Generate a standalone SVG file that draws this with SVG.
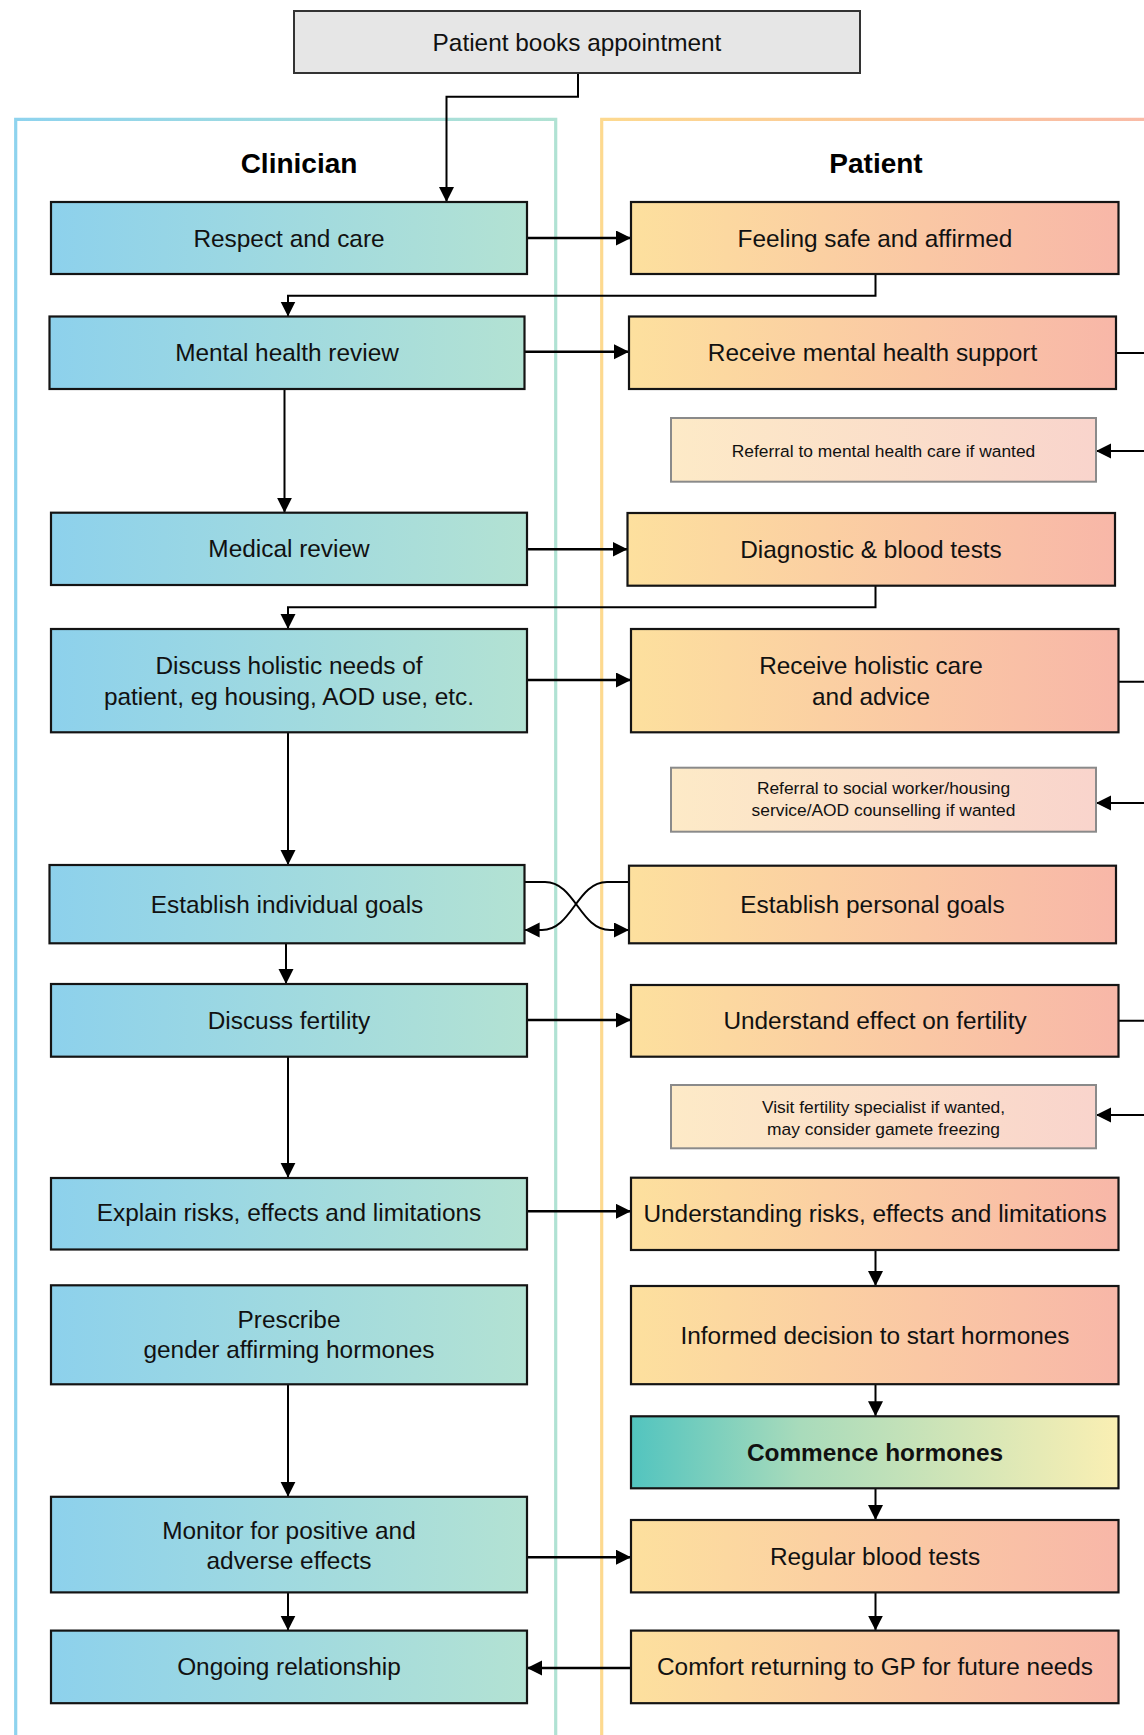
<svg xmlns="http://www.w3.org/2000/svg" width="1144" height="1735" viewBox="0 0 1144 1735">
<defs>
<linearGradient id="clinGrad" x1="0" y1="0" x2="1" y2="0"><stop offset="0" stop-color="#8dd1ec"/><stop offset="1" stop-color="#b3e2d3"/></linearGradient>
<linearGradient id="patGrad" x1="0" y1="0" x2="1" y2="0"><stop offset="0" stop-color="#fde09e"/><stop offset="1" stop-color="#f8b7a8"/></linearGradient>
<linearGradient id="refGrad" x1="0" y1="0" x2="1" y2="0"><stop offset="0" stop-color="#fdeac7"/><stop offset="1" stop-color="#f9d4cc"/></linearGradient>
<linearGradient id="comGrad" x1="0" y1="0" x2="1" y2="0"><stop offset="0" stop-color="#52c4bf"/><stop offset="0.35" stop-color="#a9dbbb"/><stop offset="1" stop-color="#faefb3"/></linearGradient>
<linearGradient id="clinLane" gradientUnits="userSpaceOnUse" x1="15" y1="0" x2="556" y2="0"><stop offset="0" stop-color="#8ed3ee"/><stop offset="1" stop-color="#b0e2d3"/></linearGradient>
<linearGradient id="patLane" gradientUnits="userSpaceOnUse" x1="602" y1="0" x2="1180" y2="0"><stop offset="0" stop-color="#fdd98f"/><stop offset="1" stop-color="#f9b9a8"/></linearGradient>
<marker id="arr" markerUnits="userSpaceOnUse" markerWidth="16" markerHeight="16" refX="15" refY="7.5" orient="auto"><path d="M0,0 L15,7.5 L0,15 z" fill="#000"/></marker>
<style>
.box{stroke:#141414;stroke-width:2.2}
.clin{fill:url(#clinGrad)}
.pat{fill:url(#patGrad)}
.ref{fill:url(#refGrad);stroke:#8a8a8a;stroke-width:2}
.t{font-family:"Liberation Sans",Arial,sans-serif;font-size:24.4px;fill:#111;text-anchor:middle}
.s{font-family:"Liberation Sans",Arial,sans-serif;font-size:17.4px;fill:#111;text-anchor:middle}
.h{font-family:"Liberation Sans",Arial,sans-serif;font-size:28px;font-weight:bold;fill:#000;text-anchor:middle}
.b{font-weight:bold}
.c{fill:none;stroke:#000;stroke-width:2}
.ch{fill:none;stroke:#000;stroke-width:2.6}
.lane{fill:none;stroke-width:3.2}
</style>
</defs>
<rect width="1144" height="1735" fill="#fff"/>
<g id="lanes">
<path class="lane" stroke="url(#clinLane)" d="M15.7,1740 V119.3 H555.7 V1740"/>
<path class="lane" stroke="url(#patLane)" d="M601.7,1740 V119.3 H1190"/>
<text class="h" x="299" y="173">Clinician</text>
<text class="h" x="876" y="173">Patient</text>
</g>
<g id="connectors">
<path class="c" d="M578,73 V96.7 H446.5 V202" marker-end="url(#arr)"/>
<path class="ch" d="M527,238 H631" marker-end="url(#arr)"/>
<path class="c" d="M875.5,274 V295.7 H288 V316.5" marker-end="url(#arr)"/>
<path class="ch" d="M524.6,351.7 H629" marker-end="url(#arr)"/>
<path class="c" d="M1116,353 H1170 V451 H1096" marker-end="url(#arr)"/>
<path class="c" d="M284.5,389 V512.7" marker-end="url(#arr)"/>
<path class="ch" d="M527,549.3 H627.5" marker-end="url(#arr)"/>
<path class="c" d="M875.5,585.7 V607.3 H288 V629" marker-end="url(#arr)"/>
<path class="ch" d="M527,680 H631" marker-end="url(#arr)"/>
<path class="c" d="M1118.5,681.7 H1170 V803 H1096" marker-end="url(#arr)"/>
<path class="c" d="M288,732.3 V865" marker-end="url(#arr)"/>
<path class="c" d="M524.6,882 H545 C575,882 580,930 610,930 H629" marker-end="url(#arr)"/>
<path class="c" d="M629,882 H607 C577,882 572,930 542,930 H524.6" marker-end="url(#arr)"/>
<path class="c" d="M286,943.3 V984" marker-end="url(#arr)"/>
<path class="ch" d="M527,1020 H631" marker-end="url(#arr)"/>
<path class="c" d="M1118.5,1020.7 H1170 V1115 H1096" marker-end="url(#arr)"/>
<path class="c" d="M288,1056.7 V1177.7" marker-end="url(#arr)"/>
<path class="ch" d="M527,1211.3 H631" marker-end="url(#arr)"/>
<path class="c" d="M875.5,1250 V1286" marker-end="url(#arr)"/>
<path class="c" d="M288,1384.2 V1496.8" marker-end="url(#arr)"/>
<path class="c" d="M875.5,1384.2 V1416.3" marker-end="url(#arr)"/>
<path class="c" d="M875.5,1488.3 V1520" marker-end="url(#arr)"/>
<path class="ch" d="M527,1557.2 H631" marker-end="url(#arr)"/>
<path class="c" d="M288,1592.4 V1630.6" marker-end="url(#arr)"/>
<path class="c" d="M875.5,1592.4 V1630.6" marker-end="url(#arr)"/>
<path class="ch" d="M631,1668 H527" marker-end="url(#arr)"/>
</g>
<g id="n-start"><rect x="294" y="11" width="566" height="62" fill="#e6e6e6" stroke="#333" stroke-width="2"/><text class="t" x="577" y="50.5">Patient books appointment</text></g>
<g id="n-respect"><rect class="box clin" x="51" y="202" width="476" height="72"/><text class="t" x="289" y="246.5">Respect and care</text></g>
<g id="n-safe"><rect class="box pat" x="631" y="202" width="487.5" height="72"/><text class="t" x="875" y="246.5">Feeling safe and affirmed</text></g>
<g id="n-mhreview"><rect class="box clin" x="49.5" y="316.5" width="475" height="72.5"/><text class="t" x="287" y="361">Mental health review</text></g>
<g id="n-mhsupport"><rect class="box pat" x="629" y="316.5" width="487" height="72.5"/><text class="t" x="872.5" y="361">Receive mental health support</text></g>
<g id="n-mhref"><rect class="ref" x="671" y="418" width="425" height="63.7"/><text class="s" x="883.5" y="456.5">Referral to mental health care if wanted</text></g>
<g id="n-medical"><rect class="box clin" x="51" y="512.7" width="476" height="72.3"/><text class="t" x="289" y="557.3">Medical review</text></g>
<g id="n-diag"><rect class="box pat" x="627.5" y="513" width="487.5" height="72.7"/><text class="t" x="871" y="557.8">Diagnostic &amp; blood tests</text></g>
<g id="n-holistic"><rect class="box clin" x="51" y="629" width="476" height="103.3"/><text class="t" x="289" y="674">Discuss holistic needs of</text><text class="t" x="289" y="705">patient, eg housing, AOD use, etc.</text></g>
<g id="n-holcare"><rect class="box pat" x="631" y="629" width="487.5" height="103.3"/><text class="t" x="871" y="674">Receive holistic care</text><text class="t" x="871" y="705">and advice</text></g>
<g id="n-socref"><rect class="ref" x="671" y="767.7" width="425" height="64"/><text class="s" x="883.5" y="794">Referral to social worker/housing</text><text class="s" x="883.5" y="816">service/AOD counselling if wanted</text></g>
<g id="n-goals"><rect class="box clin" x="49.5" y="865" width="475" height="78.3"/><text class="t" x="287" y="912.5">Establish individual goals</text></g>
<g id="n-pgoals"><rect class="box pat" x="629" y="865.7" width="487" height="77.6"/><text class="t" x="872.5" y="912.5">Establish personal goals</text></g>
<g id="n-fert"><rect class="box clin" x="51" y="984" width="476" height="72.7"/><text class="t" x="289" y="1028.8">Discuss fertility</text></g>
<g id="n-ufert"><rect class="box pat" x="631" y="985" width="487.5" height="71.7"/><text class="t" x="875" y="1029.3">Understand effect on fertility</text></g>
<g id="n-fertref"><rect class="ref" x="671" y="1085" width="425" height="63.3"/><text class="s" x="883.5" y="1112.5">Visit fertility specialist if wanted,</text><text class="s" x="883.5" y="1134.5">may consider gamete freezing</text></g>
<g id="n-explain"><rect class="box clin" x="51" y="1178" width="476" height="71.5"/><text class="t" x="289" y="1221">Explain risks, effects and limitations</text></g>
<g id="n-urisks"><rect class="box pat" x="631" y="1177.7" width="487.5" height="72.3"/><text class="t" x="875" y="1222">Understanding risks, effects and limitations</text></g>
<g id="n-prescribe"><rect class="box clin" x="51" y="1285.3" width="476" height="99"/><text class="t" x="289" y="1328">Prescribe</text><text class="t" x="289" y="1358">gender affirming hormones</text></g>
<g id="n-decision"><rect class="box pat" x="631" y="1286" width="487.5" height="98.2"/><text class="t" x="875" y="1343.5">Informed decision to start hormones</text></g>
<g id="n-commence"><rect class="box" fill="url(#comGrad)" x="631" y="1416.3" width="487.5" height="72"/><text class="t b" x="875" y="1461" font-size="24.6">Commence hormones</text></g>
<g id="n-monitor"><rect class="box clin" x="51" y="1496.8" width="476" height="95.6"/><text class="t" x="289" y="1538.5">Monitor for positive and</text><text class="t" x="289" y="1568.5">adverse effects</text></g>
<g id="n-blood"><rect class="box pat" x="631" y="1520" width="487.5" height="72.4"/><text class="t" x="875" y="1564.7">Regular blood tests</text></g>
<g id="n-ongoing"><rect class="box clin" x="51" y="1630.6" width="476" height="72.6"/><text class="t" x="289" y="1675.4">Ongoing relationship</text></g>
<g id="n-comfort"><rect class="box pat" x="631" y="1630.6" width="487.5" height="72.6"/><text class="t" x="875" y="1675.4">Comfort returning to GP for future needs</text></g>
</svg>
